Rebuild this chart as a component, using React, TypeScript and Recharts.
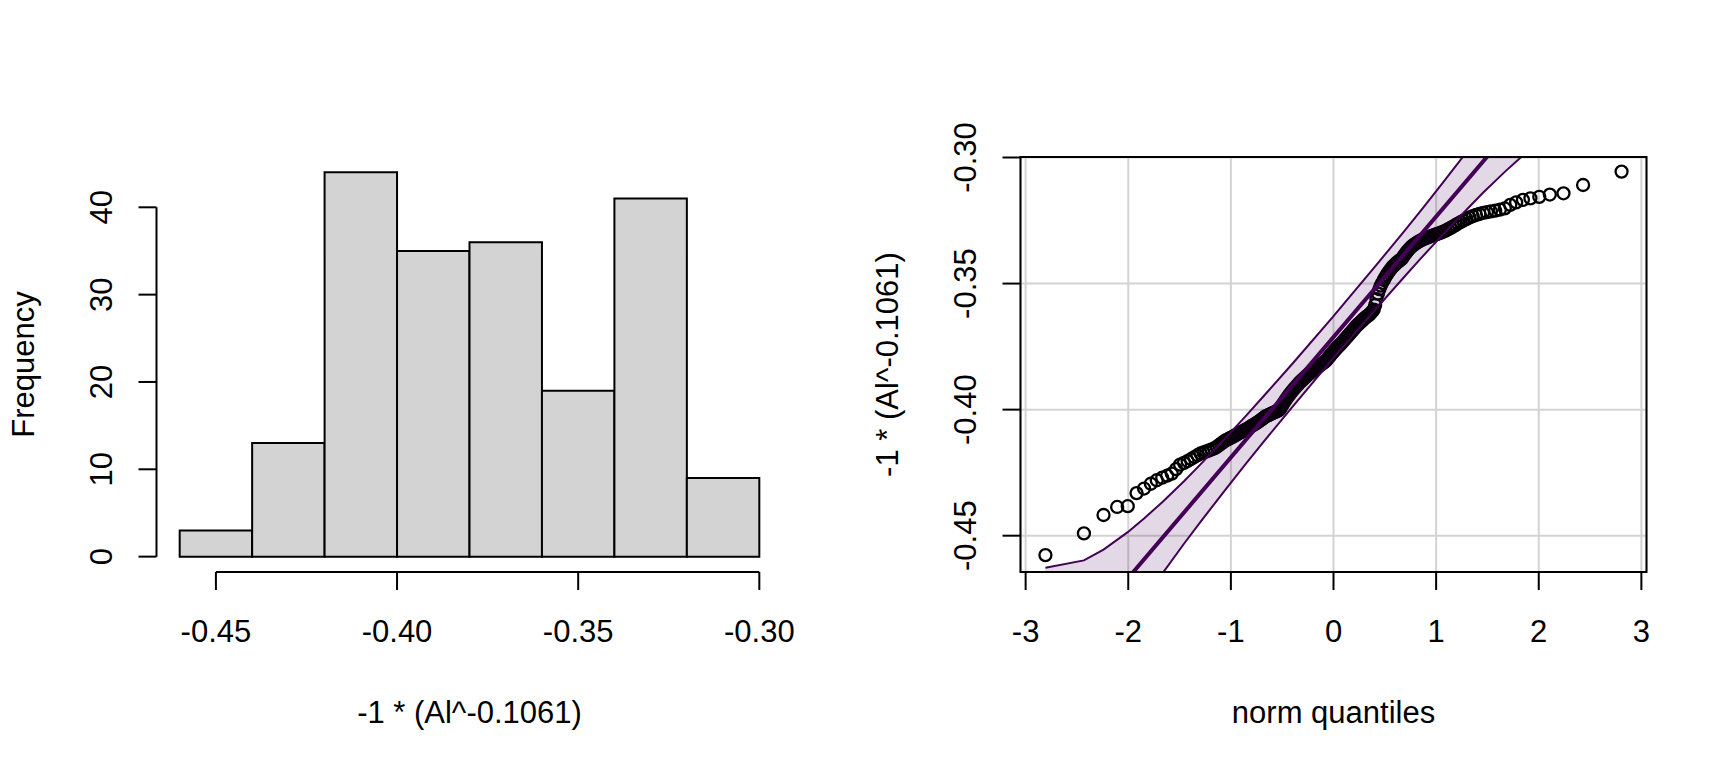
import React from 'react';
import {
  ComposedChart,
  Bar,
  XAxis,
  YAxis,
  ReferenceLine,
  ReferenceArea,
  CartesianGrid,
  Scatter,
  Line,
  Area,
} from 'recharts';

// ---------------- Histogram data ----------------
const histBinMids = [-0.45, -0.43, -0.41, -0.39, -0.37, -0.35, -0.33, -0.31];
const histCounts = [3, 13, 44, 35, 36, 19, 41, 9];
const histXTicks = [-0.45, -0.4, -0.35, -0.3];
const histYTicks = [0, 10, 20, 30, 40];
const histXDomain: [number, number] = [-0.4664, -0.2936];
const histYDomain: [number, number] = [-1.76, 45.76];
const histAxisXExtent = [-0.45, -0.3];
const histAxisYExtent = [0, 40];

// ---------------- QQ plot data ----------------
const normQuantiles = [
  -2.807, -2.432, -2.241, -2.108, -2.005, -1.919, -1.846, -1.78, -1.722, -1.669,
  -1.621, -1.576, -1.534, -1.495, -1.457, -1.422, -1.388, -1.356, -1.325, -1.296,
  -1.267, -1.24, -1.213, -1.188, -1.163, -1.138, -1.115, -1.092, -1.069, -1.047,
  -1.026, -1.005, -0.984, -0.964, -0.944, -0.925, -0.906, -0.887, -0.869, -0.851,
  -0.833, -0.815, -0.798, -0.781, -0.764, -0.747, -0.731, -0.714, -0.698, -0.682,
  -0.667, -0.651, -0.636, -0.62, -0.605, -0.59, -0.575, -0.561, -0.546, -0.532,
  -0.517, -0.503, -0.489, -0.475, -0.461, -0.447, -0.433, -0.419, -0.406, -0.392,
  -0.379, -0.366, -0.352, -0.339, -0.326, -0.313, -0.3, -0.287, -0.274, -0.261,
  -0.248, -0.235, -0.222, -0.209, -0.197, -0.184, -0.171, -0.158, -0.146, -0.133,
  -0.12, -0.107, -0.094, -0.082, -0.069, -0.056, -0.044, -0.031, -0.019, -0.006,
  0.006, 0.019, 0.031, 0.044, 0.056, 0.069, 0.082, 0.094, 0.107, 0.12,
  0.133, 0.146, 0.158, 0.171, 0.184, 0.197, 0.209, 0.222, 0.235, 0.248,
  0.261, 0.274, 0.287, 0.3, 0.313, 0.326, 0.339, 0.352, 0.366, 0.379,
  0.392, 0.406, 0.419, 0.433, 0.447, 0.461, 0.475, 0.489, 0.503, 0.517,
  0.532, 0.546, 0.561, 0.575, 0.59, 0.605, 0.62, 0.636, 0.651, 0.667,
  0.682, 0.698, 0.714, 0.731, 0.747, 0.764, 0.781, 0.798, 0.815, 0.833,
  0.851, 0.869, 0.887, 0.906, 0.925, 0.944, 0.964, 0.984, 1.005, 1.026,
  1.047, 1.069, 1.092, 1.115, 1.138, 1.163, 1.188, 1.213, 1.24, 1.267,
  1.296, 1.325, 1.356, 1.388, 1.422, 1.457, 1.495, 1.534, 1.576, 1.621,
  1.669, 1.722, 1.78, 1.846, 1.919, 2.005, 2.108, 2.241, 2.432, 2.807,
];

const sampleValues = [
  -0.4577, -0.4491, -0.4418, -0.4386, -0.4383, -0.4331, -0.4313, -0.4294, -0.428, -0.427,
  -0.4262, -0.4254, -0.4236, -0.4218, -0.4211, -0.4204, -0.4196, -0.4188, -0.4181, -0.4174,
  -0.417, -0.4166, -0.4162, -0.4158, -0.4154, -0.4148, -0.4141, -0.4134, -0.4127, -0.4121,
  -0.4117, -0.4112, -0.4108, -0.4103, -0.4099, -0.4094, -0.409, -0.4086, -0.4082, -0.4078,
  -0.4074, -0.4069, -0.4065, -0.4061, -0.4057, -0.4052, -0.4048, -0.4043, -0.4038, -0.4033,
  -0.4028, -0.4025, -0.4022, -0.4019, -0.4016, -0.4013, -0.401, -0.4008, -0.4005, -0.4002,
  -0.3995, -0.3985, -0.3976, -0.3967, -0.3958, -0.395, -0.3942, -0.3935, -0.3928, -0.3921,
  -0.3915, -0.3909, -0.3903, -0.3897, -0.3891, -0.3886, -0.3881, -0.3876, -0.3871, -0.3866,
  -0.3861, -0.3857, -0.3853, -0.3849, -0.3845, -0.3841, -0.3837, -0.3833, -0.3829, -0.3825,
  -0.3821, -0.3817, -0.3813, -0.3809, -0.3804, -0.3797, -0.3791, -0.3785, -0.3779, -0.3773,
  -0.3767, -0.3761, -0.3756, -0.375, -0.3745, -0.374, -0.3735, -0.3729, -0.3723, -0.3717,
  -0.3711, -0.3705, -0.3699, -0.3693, -0.3687, -0.3681, -0.3675, -0.3669, -0.3664, -0.3659,
  -0.3654, -0.3649, -0.3644, -0.3639, -0.3634, -0.363, -0.3626, -0.3622, -0.3616, -0.361,
  -0.3603, -0.3585, -0.3562, -0.354, -0.3522, -0.3508, -0.3497, -0.3486, -0.3476, -0.3466,
  -0.3457, -0.3449, -0.3441, -0.3434, -0.3428, -0.3422, -0.3416, -0.3411, -0.3406, -0.3401,
  -0.3392, -0.3383, -0.3374, -0.3366, -0.3359, -0.3352, -0.3347, -0.3342, -0.3337, -0.3333,
  -0.3329, -0.3325, -0.3322, -0.3319, -0.3316, -0.3313, -0.331, -0.3307, -0.3304, -0.3301,
  -0.3298, -0.3294, -0.329, -0.3285, -0.328, -0.3274, -0.3268, -0.3262, -0.3256, -0.325,
  -0.3244, -0.3238, -0.3233, -0.3228, -0.3224, -0.322, -0.3217, -0.3214, -0.3211, -0.3207,
  -0.3202, -0.3188, -0.3178, -0.3168, -0.3162, -0.3156, -0.3147, -0.3142, -0.3109, -0.3056,
];

const qqXTicks = [-3, -2, -1, 0, 1, 2, 3];
const qqYTicks = [-0.45, -0.4, -0.35, -0.3];
const qqXDomain: [number, number] = [-3.05, 3.05];
const qqYDomain: [number, number] = [-0.4644, -0.2998];

// confidence envelope (read along its two borders)
const envX = [
  -2.807, -2.432, -2.241, -2.005, -1.846, -1.669, -1.457, -1.296, -1.047, -0.851,
  -0.682, -0.392, -0.006, 0.006, 0.392, 0.682, 0.851, 1.047, 1.296, 1.457,
  1.669, 1.846, 2.005, 2.432, 2.807,
];
const envLower = [
  -0.5479, -0.515, -0.501, -0.4854, -0.4756, -0.4651, -0.4532, -0.4445, -0.4314, -0.4213,
  -0.4128, -0.3985, -0.3798, -0.3792, -0.361, -0.3477, -0.34, -0.3314, -0.3207, -0.314,
  -0.3057, -0.2992, -0.2938, -0.2826, -0.2797,
];
const envUpper = [
  -0.4627, -0.4598, -0.4555, -0.4486, -0.4432, -0.4367, -0.4284, -0.4217, -0.411, -0.4024,
  -0.3947, -0.3814, -0.3632, -0.3626, -0.3439, -0.3296, -0.3211, -0.311, -0.2979, -0.2892,
  -0.2773, -0.2668, -0.2571, -0.2275, -0.1945,
];

// reference line (robust fit)
const fitX = [-3.05, 3.05];
const fitY = [-0.5169, -0.2255];

// ---------------- tables for the library ----------------
const histData = histBinMids.map((mid, i) => ({ mid, count: histCounts[i] }));
const qqPoints = normQuantiles.map((x, i) => ({ x, y: sampleValues[i] }));
const envData = envX.map((x, i) => ({ x, band: [envLower[i], envUpper[i]] }));
const fitData = fitX.map((x, i) => ({ x, y: fitY[i] }));

// ---------------- styling ----------------
const FONT = '"Liberation Sans", Arial, Helvetica, sans-serif';
const FS = 31;
const PURPLE = '#440154';
const txt = { fontFamily: FONT, fontSize: FS, fill: '#000' };

const makeXTick = (fmt: (v: number) => string) => (props: any) => {
  const { x, y, payload } = props;
  return (
    <text x={x} y={y + 52} textAnchor="middle" style={txt}>
      {fmt(payload.value)}
    </text>
  );
};

const makeYTick = (fmt: (v: number) => string) => (props: any) => {
  const { x, y, payload } = props;
  const bx = x - 26;
  return (
    <text
      x={bx}
      y={y}
      transform={`rotate(-90 ${bx} ${y})`}
      textAnchor="middle"
      style={txt}
    >
      {fmt(payload.value)}
    </text>
  );
};

const fmt2 = (v: number) => v.toFixed(2);
const fmt0 = (v: number) => String(Math.round(v));

const xTitle = (label: string) => () => (
  <text x={469.5} y={723} textAnchor="middle" style={txt}>
    {label}
  </text>
);
const yTitle = (label: string) => () => (
  <text
    x={33.5}
    y={364.5}
    transform="rotate(-90 33.5 364.5)"
    textAnchor="middle"
    style={txt}
  >
    {label}
  </text>
);

const MARGIN = { top: 157, right: 81.5, bottom: 0, left: 0 };
const tickLine = { stroke: '#000', strokeWidth: 2 };

const OpenCircle = (props: any) => {
  const { cx, cy } = props;
  if (cx == null || cy == null) return null;
  return <circle cx={cx} cy={cy} r={6} fill="none" stroke="#000" strokeWidth={2.3} />;
};

function Histogram() {
  return (
    <ComposedChart
      width={864}
      height={768}
      data={histData}
      margin={MARGIN}
      barCategoryGap={0}
      barGap={0}
    >
      <XAxis
        dataKey="mid"
        type="number"
        domain={histXDomain}
        ticks={histXTicks}
        allowDataOverflow
        interval={0}
        height={196}
        axisLine={false}
        tickLine={tickLine}
        tickSize={18}
        tickMargin={0}
        tick={makeXTick(fmt2)}
        label={xTitle('-1 * (Al^-0.1061)')}
      />
      <YAxis
        type="number"
        domain={histYDomain}
        ticks={histYTicks}
        allowDataOverflow
        interval={0}
        width={156.5}
        axisLine={false}
        tickLine={tickLine}
        tickSize={18}
        tickMargin={0}
        tick={makeYTick(fmt0)}
        label={yTitle('Frequency')}
      />
      <Bar
        dataKey="count"
        barSize={72.45}
        fill="#D3D3D3"
        stroke="#000"
        strokeWidth={2}
        isAnimationActive={false}
      />
      <ReferenceLine
        segment={[
          { x: histAxisXExtent[0], y: histYDomain[0] },
          { x: histAxisXExtent[1], y: histYDomain[0] },
        ]}
        stroke="#000"
        strokeWidth={2}
        ifOverflow="visible"
      />
      <ReferenceLine
        segment={[
          { x: histXDomain[0], y: histAxisYExtent[0] },
          { x: histXDomain[0], y: histAxisYExtent[1] },
        ]}
        stroke="#000"
        strokeWidth={2}
        ifOverflow="visible"
      />
    </ComposedChart>
  );
}

function QQPlot() {
  return (
    <ComposedChart width={864} height={768} margin={MARGIN}>
      <CartesianGrid stroke="#D3D3D3" strokeWidth={2} />
      <XAxis
        dataKey="x"
        type="number"
        domain={qqXDomain}
        ticks={qqXTicks}
        allowDataOverflow
        interval={0}
        height={196}
        axisLine={false}
        tickLine={tickLine}
        tickSize={18}
        tickMargin={0}
        tick={makeXTick(fmt0)}
        label={xTitle('norm quantiles')}
      />
      <YAxis
        dataKey="y"
        type="number"
        domain={qqYDomain}
        ticks={qqYTicks}
        allowDataOverflow
        interval={0}
        width={156.5}
        axisLine={false}
        tickLine={tickLine}
        tickSize={18}
        tickMargin={0}
        tick={makeYTick(fmt2)}
        label={yTitle('-1 * (Al^-0.1061)')}
      />
      <Scatter
        data={qqPoints}
        dataKey="y"
        shape={OpenCircle}
        isAnimationActive={false}
        zIndex={300}
      />
      <Line
        data={fitData}
        dataKey="y"
        type="linear"
        stroke={PURPLE}
        strokeWidth={4}
        dot={false}
        activeDot={false}
        isAnimationActive={false}
        zIndex={400}
      />
      <Area
        data={envData}
        dataKey="band"
        type="linear"
        fill={PURPLE}
        fillOpacity={0.15}
        stroke={PURPLE}
        strokeWidth={2}
        dot={false}
        activeDot={false}
        isAnimationActive={false}
        zIndex={450}
      />
      <ReferenceArea
        x1={qqXDomain[0]}
        x2={qqXDomain[1]}
        y1={qqYDomain[0]}
        y2={qqYDomain[1]}
        fill="none"
        fillOpacity={0}
        stroke="#000"
        strokeWidth={2}
        ifOverflow="visible"
        zIndex={500}
      />
    </ComposedChart>
  );
}

export default function App() {
  return (
    <div
      style={{
        position: 'absolute',
        left: 0,
        top: 0,
        width: 1728,
        height: 768,
        display: 'flex',
        background: '#fff',
        overflow: 'hidden',
      }}
    >
      <Histogram />
      <QQPlot />
    </div>
  );
}
